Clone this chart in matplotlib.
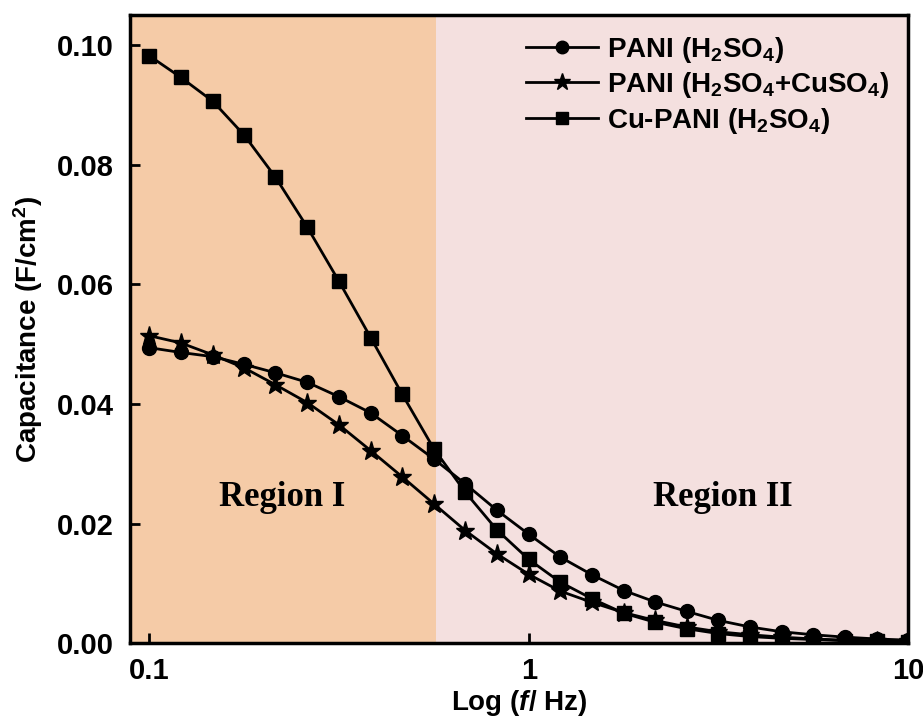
import numpy as np
import matplotlib.pyplot as plt

plt.rcParams['font.family'] = ['Liberation Sans', 'DejaVu Sans']
plt.rcParams['font.weight'] = 'bold'
plt.rcParams['mathtext.fontset'] = 'custom'
plt.rcParams['mathtext.rm'] = 'Liberation Sans:bold'
plt.rcParams['mathtext.bf'] = 'Liberation Sans:bold'
plt.rcParams['mathtext.it'] = 'Liberation Sans:bold:italic'

# frequency points, 12 per decade from 0.1 Hz to 10 Hz
freq = [0.1, 0.121, 0.147, 0.178, 0.215, 0.261, 0.316, 0.383, 0.464, 0.562,
        0.681, 0.825, 1.0, 1.21, 1.47, 1.78, 2.15, 2.61, 3.16, 3.83,
        4.64, 5.62, 6.81, 8.25, 10.0]

pani = [0.0494, 0.0486, 0.0479, 0.0466, 0.0452, 0.0436, 0.0412, 0.0385, 0.0347, 0.0308,
        0.0266, 0.0222, 0.0182, 0.0144, 0.0114, 0.0088, 0.0069, 0.0053, 0.0038, 0.0027,
        0.0019, 0.0014, 0.0010, 0.0007, 0.0005]
pani_cuso4 = [0.0514, 0.0502, 0.0482, 0.0460, 0.0432, 0.0402, 0.0365, 0.0322, 0.0278, 0.0233,
              0.0188, 0.0149, 0.0115, 0.0087, 0.0068, 0.0051, 0.0038, 0.0027, 0.0019, 0.0014,
              0.0010, 0.0007, 0.0005, 0.0004, 0.0003]
cu_pani = [0.0982, 0.0946, 0.0906, 0.0849, 0.0779, 0.0695, 0.0605, 0.0511, 0.0416, 0.0325,
           0.0252, 0.0189, 0.0140, 0.0102, 0.0074, 0.0050, 0.0035, 0.0024, 0.0016, 0.0011,
           0.0008, 0.0006, 0.0004, 0.0003, 0.0002]

region_edge = 0.57

fig = plt.figure(figsize=(9.23, 7.21), dpi=100)
ax = fig.add_axes([0.141, 0.108, 0.843, 0.871])

ax.axvspan(0.089, region_edge, color='#f5cba7', lw=0, zorder=0)
ax.axvspan(region_edge, 10, color='#f4e0df', lw=0, zorder=0)

ax.plot(freq, pani, '-o', color='black', lw=2, ms=10, label='PANI (H$_2$SO$_4$)')
ax.plot(freq, pani_cuso4, '-*', color='black', lw=2, ms=14,
        label='PANI (H$_2$SO$_4$+CuSO$_4$)')
ax.plot(freq, cu_pani, '-s', color='black', lw=2, ms=10, label='Cu-PANI (H$_2$SO$_4$)')

ax.set_xscale('log')
ax.set_xlim(0.089, 10)
ax.set_ylim(0, 0.105)
ax.set_xticks([0.1, 1, 10])
ax.set_xticklabels(['0.1', '1', '10'])
ax.minorticks_off()
ax.set_yticks([0, 0.02, 0.04, 0.06, 0.08, 0.10])
ax.set_yticklabels(['0.00', '0.02', '0.04', '0.06', '0.08', '0.10'])
ax.tick_params(direction='in', length=7, width=2, labelsize=21)
ax.tick_params(axis='y', pad=12)
ax.tick_params(axis='x', pad=10)
for s in ax.spines.values():
    s.set_linewidth(2.5)

ax.set_xlabel('Log ($\\it{f}$/ Hz)', fontsize=20, fontweight='bold', labelpad=2)
ax.set_ylabel('Capacitance (F/cm$^2$)', fontsize=20, fontweight='bold', labelpad=8)

ax.text(0.224, 0.0243, 'Region I', fontsize=25, fontweight='bold',
        family='Liberation Serif', ha='center', va='center')
ax.text(3.25, 0.0243, 'Region II', fontsize=25, fontweight='bold',
        family='Liberation Serif', ha='center', va='center')

ax.legend(loc='upper right', bbox_to_anchor=(1.0, 1.0), frameon=False, fontsize=20,
          handlelength=2.6, handletextpad=0.3, labelspacing=0.2, borderaxespad=0.3,
          markerscale=0.9)

fig.savefig('out.png', dpi=100)
